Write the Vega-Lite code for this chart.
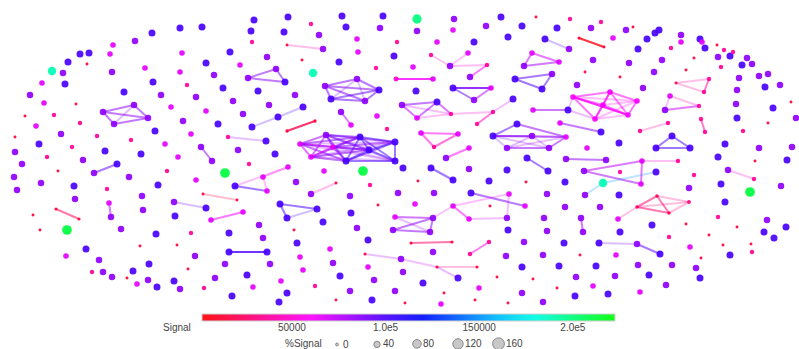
{
"$schema":"https://vega.github.io/schema/vega-lite/v6.json",
"width":799,"height":349,"padding":0,"autosize":{"type":"none"},
"background":"white",
"config":{"view":{"stroke":null},"font":"Liberation Sans"},
"datasets":{
"nodes":[
{"x":254,"y":20,"signal":101000,"pct":50},{"x":288,"y":17,"signal":101000,"pct":50},{"x":342,"y":16,"signal":101000,"pct":50},{"x":383,"y":16,"signal":101000,"pct":50},
{"x":180,"y":28,"signal":101000,"pct":50},{"x":202,"y":27,"signal":101000,"pct":50},{"x":251,"y":31,"signal":101000,"pct":50},{"x":284,"y":32,"signal":101000,"pct":50},
{"x":311,"y":24,"signal":37000,"pct":14},{"x":346,"y":27,"signal":101000,"pct":50},{"x":380,"y":28,"signal":85000,"pct":42},{"x":152,"y":33,"signal":101000,"pct":50},
{"x":135,"y":41,"signal":85000,"pct":42},{"x":113,"y":45,"signal":66000,"pct":28},{"x":252,"y":42,"signal":37000,"pct":14},{"x":287,"y":45,"signal":15000,"pct":1},
{"x":323,"y":49,"signal":85000,"pct":42},{"x":319,"y":35,"signal":85000,"pct":42},{"x":357,"y":39,"signal":66000,"pct":28},{"x":397,"y":42,"signal":37000,"pct":14},
{"x":80,"y":54,"signal":101000,"pct":50},{"x":89,"y":53,"signal":101000,"pct":50},{"x":110,"y":54,"signal":66000,"pct":28},{"x":182,"y":53,"signal":66000,"pct":28},
{"x":230,"y":52,"signal":101000,"pct":50},{"x":358,"y":52,"signal":66000,"pct":28},{"x":394,"y":56,"signal":101000,"pct":50},{"x":68,"y":62,"signal":101000,"pct":50},
{"x":87,"y":64,"signal":15000,"pct":1},{"x":206,"y":63,"signal":101000,"pct":50},{"x":240,"y":65,"signal":66000,"pct":28},{"x":267,"y":57,"signal":85000,"pct":42},
{"x":302,"y":60,"signal":15000,"pct":1},{"x":339,"y":62,"signal":101000,"pct":50},{"x":52,"y":71,"signal":189000,"pct":78},{"x":63,"y":73,"signal":85000,"pct":42},
{"x":65,"y":84,"signal":101000,"pct":50},{"x":42,"y":83,"signal":66000,"pct":28},{"x":112,"y":72,"signal":85000,"pct":42},{"x":145,"y":68,"signal":66000,"pct":28},
{"x":180,"y":72,"signal":66000,"pct":28},{"x":214,"y":75,"signal":85000,"pct":42},{"x":187,"y":85,"signal":37000,"pct":14},{"x":153,"y":82,"signal":101000,"pct":50},
{"x":313,"y":73,"signal":189000,"pct":78},{"x":376,"y":68,"signal":37000,"pct":14},{"x":396,"y":79,"signal":50000,"pct":20},{"x":248,"y":78,"signal":85000,"pct":42},
{"x":276,"y":69,"signal":85000,"pct":42},{"x":285,"y":82,"signal":101000,"pct":50},{"x":325,"y":86,"signal":85000,"pct":42},{"x":357,"y":79,"signal":85000,"pct":42},
{"x":379,"y":90,"signal":101000,"pct":50},{"x":331,"y":99,"signal":101000,"pct":50},{"x":365,"y":101,"signal":85000,"pct":42},{"x":30,"y":95,"signal":85000,"pct":42},
{"x":44,"y":103,"signal":66000,"pct":28},{"x":76,"y":104,"signal":15000,"pct":1},{"x":124,"y":92,"signal":101000,"pct":50},{"x":161,"y":95,"signal":85000,"pct":42},
{"x":223,"y":88,"signal":101000,"pct":50},{"x":258,"y":91,"signal":101000,"pct":50},{"x":295,"y":95,"signal":85000,"pct":42},{"x":196,"y":97,"signal":85000,"pct":42},
{"x":233,"y":101,"signal":85000,"pct":42},{"x":269,"y":105,"signal":85000,"pct":42},{"x":103,"y":112,"signal":85000,"pct":42},{"x":134,"y":105,"signal":85000,"pct":42},
{"x":148,"y":118,"signal":85000,"pct":42},{"x":114,"y":124,"signal":85000,"pct":42},{"x":25,"y":116,"signal":15000,"pct":1},{"x":54,"y":115,"signal":37000,"pct":14},
{"x":36,"y":126,"signal":66000,"pct":28},{"x":80,"y":123,"signal":37000,"pct":14},{"x":61,"y":134,"signal":85000,"pct":42},{"x":15,"y":137,"signal":15000,"pct":1},
{"x":39,"y":144,"signal":101000,"pct":50},{"x":72,"y":147,"signal":37000,"pct":14},{"x":97,"y":136,"signal":37000,"pct":14},{"x":131,"y":140,"signal":37000,"pct":14},
{"x":155,"y":131,"signal":101000,"pct":50},{"x":171,"y":107,"signal":66000,"pct":28},{"x":183,"y":121,"signal":85000,"pct":42},{"x":206,"y":111,"signal":66000,"pct":28},
{"x":191,"y":134,"signal":66000,"pct":28},{"x":165,"y":144,"signal":66000,"pct":28},{"x":218,"y":124,"signal":101000,"pct":50},{"x":243,"y":114,"signal":85000,"pct":42},
{"x":252,"y":127,"signal":101000,"pct":50},{"x":278,"y":117,"signal":101000,"pct":50},{"x":303,"y":107,"signal":101000,"pct":50},{"x":287,"y":131,"signal":15000,"pct":4},
{"x":315,"y":121,"signal":15000,"pct":4},{"x":341,"y":112,"signal":85000,"pct":42},{"x":351,"y":125,"signal":66000,"pct":28},{"x":377,"y":116,"signal":66000,"pct":28},
{"x":387,"y":129,"signal":37000,"pct":14},{"x":228,"y":137,"signal":37000,"pct":14},{"x":266,"y":141,"signal":101000,"pct":50},{"x":201,"y":147,"signal":85000,"pct":42},
{"x":238,"y":150,"signal":85000,"pct":42},{"x":275,"y":154,"signal":101000,"pct":50},{"x":141,"y":154,"signal":101000,"pct":50},{"x":105,"y":151,"signal":101000,"pct":50},
{"x":15,"y":152,"signal":85000,"pct":42},{"x":47,"y":157,"signal":37000,"pct":14},{"x":83,"y":160,"signal":85000,"pct":42},{"x":178,"y":157,"signal":66000,"pct":28},
{"x":300,"y":144,"signal":66000,"pct":28},{"x":326,"y":135,"signal":85000,"pct":42},{"x":360,"y":137,"signal":101000,"pct":50},{"x":395,"y":142,"signal":101000,"pct":50},
{"x":369,"y":150,"signal":101000,"pct":50},{"x":333,"y":147,"signal":66000,"pct":28},{"x":311,"y":157,"signal":66000,"pct":28},{"x":346,"y":161,"signal":101000,"pct":50},
{"x":395,"y":161,"signal":101000,"pct":50},{"x":363,"y":171,"signal":211000,"pct":105},
{"x":417,"y":19,"signal":199000,"pct":95},{"x":417,"y":31,"signal":85000,"pct":42},{"x":454,"y":19,"signal":85000,"pct":42},{"x":453,"y":30,"signal":66000,"pct":28},
{"x":501,"y":17,"signal":101000,"pct":50},{"x":486,"y":26,"signal":85000,"pct":42},{"x":522,"y":26,"signal":101000,"pct":50},{"x":536,"y":17,"signal":15000,"pct":1},
{"x":570,"y":19,"signal":37000,"pct":14},{"x":557,"y":28,"signal":101000,"pct":50},{"x":591,"y":28,"signal":85000,"pct":42},{"x":601,"y":22,"signal":37000,"pct":14},
{"x":626,"y":30,"signal":85000,"pct":42},{"x":633,"y":27,"signal":15000,"pct":1},{"x":647,"y":39,"signal":101000,"pct":50},{"x":655,"y":33,"signal":101000,"pct":50},
{"x":659,"y":30,"signal":101000,"pct":50},{"x":681,"y":35,"signal":85000,"pct":42},{"x":681,"y":42,"signal":66000,"pct":28},{"x":700,"y":39,"signal":101000,"pct":50},
{"x":702,"y":42,"signal":66000,"pct":28},{"x":705,"y":48,"signal":101000,"pct":50},{"x":717,"y":45,"signal":15000,"pct":1},{"x":724,"y":50,"signal":37000,"pct":14},
{"x":730,"y":56,"signal":101000,"pct":50},{"x":733,"y":52,"signal":37000,"pct":14},{"x":718,"y":57,"signal":85000,"pct":42},{"x":747,"y":58,"signal":85000,"pct":42},
{"x":752,"y":64,"signal":85000,"pct":42},{"x":742,"y":65,"signal":101000,"pct":50},{"x":721,"y":67,"signal":37000,"pct":14},{"x":694,"y":58,"signal":15000,"pct":1},
{"x":686,"y":70,"signal":15000,"pct":1},{"x":662,"y":60,"signal":85000,"pct":42},{"x":671,"y":48,"signal":37000,"pct":14},{"x":638,"y":49,"signal":101000,"pct":50},
{"x":629,"y":63,"signal":85000,"pct":42},{"x":613,"y":38,"signal":66000,"pct":28},{"x":579,"y":38,"signal":15000,"pct":2},{"x":604,"y":47,"signal":15000,"pct":1},
{"x":545,"y":39,"signal":101000,"pct":50},{"x":569,"y":49,"signal":85000,"pct":42},{"x":508,"y":37,"signal":101000,"pct":50},{"x":474,"y":42,"signal":101000,"pct":50},
{"x":437,"y":42,"signal":66000,"pct":28},{"x":431,"y":55,"signal":37000,"pct":14},{"x":468,"y":53,"signal":66000,"pct":28},{"x":450,"y":66,"signal":85000,"pct":42},
{"x":487,"y":65,"signal":37000,"pct":14},{"x":470,"y":77,"signal":85000,"pct":42},{"x":532,"y":53,"signal":66000,"pct":28},{"x":559,"y":62,"signal":66000,"pct":28},
{"x":524,"y":66,"signal":85000,"pct":42},{"x":593,"y":60,"signal":85000,"pct":42},{"x":585,"y":72,"signal":15000,"pct":1},{"x":620,"y":77,"signal":15000,"pct":1},
{"x":654,"y":72,"signal":85000,"pct":42},{"x":739,"y":78,"signal":85000,"pct":42},{"x":759,"y":76,"signal":85000,"pct":42},{"x":768,"y":74,"signal":85000,"pct":42},
{"x":765,"y":87,"signal":101000,"pct":50},{"x":780,"y":85,"signal":85000,"pct":42},{"x":737,"y":90,"signal":85000,"pct":42},{"x":736,"y":104,"signal":85000,"pct":42},
{"x":791,"y":102,"signal":15000,"pct":1},{"x":773,"y":108,"signal":101000,"pct":50},{"x":737,"y":118,"signal":101000,"pct":50},{"x":768,"y":123,"signal":15000,"pct":1},
{"x":796,"y":118,"signal":85000,"pct":42},{"x":743,"y":131,"signal":37000,"pct":14},{"x":725,"y":144,"signal":101000,"pct":50},{"x":759,"y":148,"signal":85000,"pct":42},
{"x":792,"y":147,"signal":85000,"pct":42},{"x":718,"y":157,"signal":101000,"pct":50},{"x":787,"y":160,"signal":101000,"pct":50},{"x":433,"y":79,"signal":66000,"pct":28},
{"x":413,"y":67,"signal":66000,"pct":28},{"x":416,"y":91,"signal":101000,"pct":50},{"x":453,"y":88,"signal":101000,"pct":50},{"x":491,"y":88,"signal":66000,"pct":28},
{"x":474,"y":100,"signal":85000,"pct":42},{"x":515,"y":79,"signal":101000,"pct":50},{"x":552,"y":74,"signal":85000,"pct":42},{"x":542,"y":89,"signal":101000,"pct":50},
{"x":577,"y":85,"signal":85000,"pct":42},{"x":643,"y":88,"signal":85000,"pct":42},{"x":676,"y":83,"signal":15000,"pct":1},{"x":709,"y":79,"signal":37000,"pct":14},
{"x":704,"y":92,"signal":37000,"pct":14},{"x":402,"y":105,"signal":85000,"pct":42},{"x":437,"y":102,"signal":101000,"pct":50},{"x":417,"y":118,"signal":66000,"pct":28},
{"x":451,"y":114,"signal":37000,"pct":14},{"x":513,"y":99,"signal":101000,"pct":50},{"x":493,"y":112,"signal":37000,"pct":14},{"x":477,"y":124,"signal":37000,"pct":14},
{"x":533,"y":110,"signal":66000,"pct":28},{"x":568,"y":110,"signal":101000,"pct":50},{"x":573,"y":97,"signal":62000,"pct":28},{"x":610,"y":92,"signal":62000,"pct":28},
{"x":637,"y":101,"signal":62000,"pct":28},{"x":628,"y":115,"signal":62000,"pct":28},{"x":595,"y":119,"signal":62000,"pct":28},{"x":603,"y":105,"signal":62000,"pct":28},
{"x":670,"y":96,"signal":66000,"pct":28},{"x":665,"y":110,"signal":85000,"pct":42},{"x":699,"y":106,"signal":37000,"pct":14},{"x":701,"y":119,"signal":37000,"pct":14},
{"x":705,"y":132,"signal":37000,"pct":14},{"x":560,"y":123,"signal":66000,"pct":28},{"x":601,"y":132,"signal":101000,"pct":50},{"x":640,"y":131,"signal":37000,"pct":14},
{"x":668,"y":123,"signal":37000,"pct":14},{"x":421,"y":133,"signal":66000,"pct":28},{"x":458,"y":134,"signal":66000,"pct":28},{"x":434,"y":147,"signal":37000,"pct":14},
{"x":517,"y":124,"signal":101000,"pct":50},{"x":493,"y":136,"signal":101000,"pct":50},{"x":532,"y":136,"signal":85000,"pct":42},{"x":566,"y":137,"signal":66000,"pct":28},
{"x":507,"y":148,"signal":85000,"pct":42},{"x":549,"y":148,"signal":85000,"pct":42},{"x":619,"y":143,"signal":101000,"pct":50},{"x":587,"y":148,"signal":66000,"pct":28},
{"x":672,"y":136,"signal":101000,"pct":50},{"x":656,"y":148,"signal":101000,"pct":50},{"x":690,"y":148,"signal":101000,"pct":50},{"x":446,"y":158,"signal":85000,"pct":42},
{"x":469,"y":148,"signal":66000,"pct":28},{"x":527,"y":158,"signal":101000,"pct":50},
{"x":22,"y":164,"signal":85000,"pct":42},{"x":14,"y":177,"signal":85000,"pct":42},{"x":17,"y":190,"signal":85000,"pct":42},{"x":41,"y":183,"signal":85000,"pct":42},
{"x":58,"y":171,"signal":15000,"pct":1},{"x":94,"y":173,"signal":85000,"pct":42},{"x":117,"y":164,"signal":101000,"pct":50},{"x":129,"y":177,"signal":85000,"pct":42},
{"x":74,"y":186,"signal":101000,"pct":50},{"x":75,"y":199,"signal":85000,"pct":42},{"x":107,"y":189,"signal":37000,"pct":14},{"x":109,"y":203,"signal":66000,"pct":28},
{"x":111,"y":217,"signal":85000,"pct":42},{"x":142,"y":196,"signal":85000,"pct":42},{"x":143,"y":210,"signal":85000,"pct":42},{"x":158,"y":185,"signal":101000,"pct":50},
{"x":167,"y":171,"signal":37000,"pct":14},{"x":196,"y":180,"signal":66000,"pct":28},{"x":212,"y":161,"signal":85000,"pct":42},{"x":225,"y":173,"signal":211000,"pct":105},
{"x":249,"y":164,"signal":37000,"pct":14},{"x":235,"y":186,"signal":101000,"pct":50},{"x":263,"y":177,"signal":66000,"pct":28},{"x":288,"y":167,"signal":66000,"pct":28},
{"x":267,"y":191,"signal":66000,"pct":28},{"x":324,"y":171,"signal":66000,"pct":28},{"x":296,"y":182,"signal":85000,"pct":42},{"x":311,"y":194,"signal":85000,"pct":42},
{"x":336,"y":183,"signal":15000,"pct":1},{"x":370,"y":185,"signal":37000,"pct":14},{"x":350,"y":196,"signal":85000,"pct":42},{"x":378,"y":205,"signal":15000,"pct":1},
{"x":398,"y":193,"signal":85000,"pct":42},{"x":33,"y":215,"signal":15000,"pct":1},{"x":56,"y":209,"signal":15000,"pct":2},{"x":79,"y":219,"signal":15000,"pct":2},
{"x":40,"y":230,"signal":15000,"pct":1},{"x":67,"y":230,"signal":211000,"pct":105},{"x":121,"y":229,"signal":85000,"pct":42},{"x":156,"y":234,"signal":101000,"pct":50},
{"x":174,"y":202,"signal":85000,"pct":42},{"x":206,"y":208,"signal":101000,"pct":50},{"x":175,"y":216,"signal":101000,"pct":50},{"x":203,"y":194,"signal":15000,"pct":1},
{"x":237,"y":200,"signal":15000,"pct":1},{"x":211,"y":220,"signal":66000,"pct":28},{"x":243,"y":212,"signal":66000,"pct":28},{"x":191,"y":233,"signal":37000,"pct":14},
{"x":229,"y":233,"signal":101000,"pct":50},{"x":259,"y":225,"signal":85000,"pct":42},{"x":263,"y":238,"signal":85000,"pct":42},{"x":280,"y":204,"signal":101000,"pct":50},
{"x":317,"y":209,"signal":101000,"pct":50},{"x":287,"y":218,"signal":101000,"pct":50},{"x":323,"y":222,"signal":101000,"pct":50},{"x":294,"y":230,"signal":15000,"pct":1},
{"x":351,"y":213,"signal":101000,"pct":50},{"x":357,"y":228,"signal":85000,"pct":42},{"x":368,"y":240,"signal":101000,"pct":50},{"x":395,"y":217,"signal":66000,"pct":28},
{"x":393,"y":230,"signal":85000,"pct":42},{"x":86,"y":249,"signal":101000,"pct":50},{"x":66,"y":256,"signal":66000,"pct":28},{"x":99,"y":260,"signal":85000,"pct":42},
{"x":92,"y":272,"signal":37000,"pct":14},{"x":103,"y":272,"signal":85000,"pct":42},{"x":112,"y":277,"signal":85000,"pct":42},{"x":127,"y":278,"signal":15000,"pct":1},
{"x":137,"y":284,"signal":66000,"pct":28},{"x":133,"y":271,"signal":101000,"pct":50},{"x":140,"y":246,"signal":15000,"pct":1},{"x":149,"y":264,"signal":101000,"pct":50},
{"x":148,"y":280,"signal":85000,"pct":42},{"x":157,"y":287,"signal":101000,"pct":50},{"x":174,"y":281,"signal":101000,"pct":50},{"x":177,"y":245,"signal":15000,"pct":1},
{"x":180,"y":289,"signal":85000,"pct":42},{"x":195,"y":256,"signal":85000,"pct":42},{"x":188,"y":269,"signal":15000,"pct":1},{"x":204,"y":288,"signal":37000,"pct":14},
{"x":215,"y":278,"signal":85000,"pct":42},{"x":225,"y":264,"signal":85000,"pct":42},{"x":229,"y":252,"signal":101000,"pct":50},{"x":267,"y":252,"signal":101000,"pct":50},
{"x":232,"y":296,"signal":101000,"pct":50},{"x":247,"y":275,"signal":101000,"pct":50},{"x":253,"y":287,"signal":66000,"pct":28},{"x":270,"y":264,"signal":85000,"pct":42},
{"x":281,"y":281,"signal":66000,"pct":28},{"x":287,"y":293,"signal":101000,"pct":50},{"x":279,"y":302,"signal":101000,"pct":50},{"x":297,"y":243,"signal":101000,"pct":50},
{"x":300,"y":257,"signal":66000,"pct":28},{"x":303,"y":270,"signal":66000,"pct":28},{"x":315,"y":286,"signal":37000,"pct":14},{"x":330,"y":249,"signal":66000,"pct":28},
{"x":333,"y":263,"signal":85000,"pct":42},{"x":340,"y":276,"signal":101000,"pct":50},{"x":336,"y":300,"signal":15000,"pct":1},{"x":350,"y":291,"signal":85000,"pct":42},
{"x":368,"y":267,"signal":66000,"pct":28},{"x":365,"y":254,"signal":15000,"pct":2},{"x":401,"y":259,"signal":85000,"pct":42},{"x":374,"y":280,"signal":85000,"pct":42},
{"x":372,"y":300,"signal":101000,"pct":50},{"x":395,"y":291,"signal":85000,"pct":42},
{"x":403,"y":168,"signal":101000,"pct":50},{"x":431,"y":168,"signal":101000,"pct":50},{"x":453,"y":180,"signal":101000,"pct":50},{"x":469,"y":169,"signal":85000,"pct":42},
{"x":507,"y":170,"signal":101000,"pct":50},{"x":548,"y":171,"signal":101000,"pct":50},{"x":566,"y":159,"signal":85000,"pct":42},{"x":606,"y":160,"signal":85000,"pct":42},
{"x":584,"y":171,"signal":85000,"pct":42},{"x":642,"y":161,"signal":66000,"pct":28},{"x":641,"y":184,"signal":66000,"pct":28},{"x":678,"y":161,"signal":37000,"pct":14},
{"x":620,"y":172,"signal":37000,"pct":14},{"x":656,"y":172,"signal":101000,"pct":50},{"x":603,"y":183,"signal":189000,"pct":78},{"x":585,"y":195,"signal":85000,"pct":42},
{"x":694,"y":175,"signal":37000,"pct":14},{"x":755,"y":161,"signal":15000,"pct":1},{"x":728,"y":170,"signal":85000,"pct":42},{"x":754,"y":179,"signal":37000,"pct":14},
{"x":750,"y":192,"signal":211000,"pct":105},{"x":781,"y":186,"signal":85000,"pct":42},{"x":721,"y":184,"signal":101000,"pct":50},{"x":725,"y":202,"signal":101000,"pct":50},
{"x":689,"y":188,"signal":85000,"pct":42},{"x":418,"y":181,"signal":15000,"pct":1},{"x":489,"y":181,"signal":101000,"pct":50},{"x":526,"y":182,"signal":15000,"pct":1},
{"x":565,"y":182,"signal":101000,"pct":50},{"x":434,"y":193,"signal":85000,"pct":42},{"x":471,"y":193,"signal":101000,"pct":50},{"x":525,"y":206,"signal":66000,"pct":28},
{"x":509,"y":194,"signal":66000,"pct":28},{"x":507,"y":218,"signal":85000,"pct":42},{"x":547,"y":194,"signal":85000,"pct":42},{"x":619,"y":195,"signal":101000,"pct":50},
{"x":600,"y":207,"signal":85000,"pct":42},{"x":565,"y":207,"signal":85000,"pct":42},{"x":490,"y":206,"signal":15000,"pct":1},{"x":415,"y":204,"signal":66000,"pct":28},
{"x":453,"y":206,"signal":66000,"pct":28},{"x":469,"y":219,"signal":66000,"pct":28},{"x":433,"y":218,"signal":85000,"pct":42},{"x":430,"y":232,"signal":85000,"pct":42},
{"x":544,"y":218,"signal":85000,"pct":42},{"x":581,"y":218,"signal":85000,"pct":42},{"x":583,"y":232,"signal":85000,"pct":42},{"x":618,"y":219,"signal":66000,"pct":28},
{"x":637,"y":207,"signal":20000,"pct":5},{"x":657,"y":196,"signal":20000,"pct":5},{"x":669,"y":213,"signal":20000,"pct":5},{"x":689,"y":202,"signal":30000,"pct":8},
{"x":652,"y":225,"signal":101000,"pct":50},{"x":686,"y":224,"signal":15000,"pct":1},{"x":718,"y":217,"signal":37000,"pct":14},{"x":737,"y":227,"signal":15000,"pct":1},
{"x":767,"y":220,"signal":85000,"pct":42},{"x":764,"y":232,"signal":101000,"pct":50},{"x":774,"y":238,"signal":101000,"pct":50},{"x":786,"y":227,"signal":101000,"pct":50},
{"x":709,"y":235,"signal":15000,"pct":1},{"x":669,"y":237,"signal":37000,"pct":14},{"x":690,"y":247,"signal":66000,"pct":28},{"x":723,"y":245,"signal":15000,"pct":1},
{"x":751,"y":244,"signal":15000,"pct":1},{"x":752,"y":252,"signal":37000,"pct":14},{"x":730,"y":255,"signal":101000,"pct":50},{"x":701,"y":258,"signal":15000,"pct":1},
{"x":696,"y":268,"signal":85000,"pct":42},{"x":700,"y":278,"signal":101000,"pct":50},{"x":508,"y":230,"signal":101000,"pct":50},{"x":547,"y":231,"signal":85000,"pct":42},
{"x":620,"y":232,"signal":101000,"pct":50},{"x":411,"y":243,"signal":15000,"pct":3},{"x":452,"y":242,"signal":15000,"pct":3},{"x":489,"y":242,"signal":37000,"pct":14},
{"x":470,"y":254,"signal":37000,"pct":14},{"x":524,"y":242,"signal":85000,"pct":42},{"x":564,"y":243,"signal":101000,"pct":50},{"x":599,"y":243,"signal":101000,"pct":50},
{"x":637,"y":244,"signal":85000,"pct":42},{"x":660,"y":254,"signal":101000,"pct":50},{"x":433,"y":252,"signal":85000,"pct":42},{"x":506,"y":256,"signal":85000,"pct":42},
{"x":543,"y":255,"signal":85000,"pct":42},{"x":580,"y":255,"signal":15000,"pct":1},{"x":616,"y":255,"signal":66000,"pct":28},{"x":437,"y":267,"signal":15000,"pct":3},
{"x":477,"y":267,"signal":15000,"pct":3},{"x":458,"y":278,"signal":101000,"pct":50},{"x":403,"y":272,"signal":85000,"pct":42},{"x":423,"y":283,"signal":101000,"pct":50},
{"x":497,"y":277,"signal":15000,"pct":1},{"x":522,"y":267,"signal":101000,"pct":50},{"x":559,"y":266,"signal":101000,"pct":50},{"x":596,"y":266,"signal":101000,"pct":50},
{"x":638,"y":265,"signal":85000,"pct":42},{"x":672,"y":265,"signal":85000,"pct":42},{"x":649,"y":275,"signal":101000,"pct":50},{"x":615,"y":276,"signal":85000,"pct":42},
{"x":576,"y":277,"signal":85000,"pct":42},{"x":533,"y":279,"signal":15000,"pct":1},{"x":479,"y":288,"signal":66000,"pct":28},{"x":444,"y":293,"signal":15000,"pct":1},
{"x":405,"y":303,"signal":15000,"pct":1},{"x":441,"y":304,"signal":66000,"pct":28},{"x":475,"y":300,"signal":15000,"pct":1},{"x":508,"y":303,"signal":15000,"pct":1},
{"x":522,"y":293,"signal":85000,"pct":42},{"x":543,"y":302,"signal":85000,"pct":42},{"x":557,"y":288,"signal":15000,"pct":1},{"x":575,"y":296,"signal":101000,"pct":50},
{"x":593,"y":286,"signal":66000,"pct":28},{"x":608,"y":294,"signal":101000,"pct":50},{"x":640,"y":292,"signal":66000,"pct":28},{"x":666,"y":285,"signal":85000,"pct":42}
],
"edges":[
{"x1":287,"y1":45,"x2":323,"y2":49,"signal":40000,"w":1},
{"x1":248,"y1":78,"x2":276,"y2":69,"signal":85000,"w":2},{"x1":248,"y1":78,"x2":285,"y2":82,"signal":85000,"w":2},{"x1":276,"y1":69,"x2":285,"y2":82,"signal":90000,"w":2},
{"x1":325,"y1":86,"x2":357,"y2":79,"signal":88000,"w":2},{"x1":325,"y1":86,"x2":379,"y2":90,"signal":88000,"w":2},{"x1":325,"y1":86,"x2":331,"y2":99,"signal":88000,"w":2},{"x1":325,"y1":86,"x2":365,"y2":101,"signal":88000,"w":2},{"x1":357,"y1":79,"x2":379,"y2":90,"signal":88000,"w":2},{"x1":357,"y1":79,"x2":331,"y2":99,"signal":88000,"w":1},{"x1":357,"y1":79,"x2":365,"y2":101,"signal":88000,"w":1},{"x1":379,"y1":90,"x2":331,"y2":99,"signal":95000,"w":2},{"x1":379,"y1":90,"x2":365,"y2":101,"signal":95000,"w":2},{"x1":331,"y1":99,"x2":365,"y2":101,"signal":95000,"w":2},
{"x1":103,"y1":112,"x2":134,"y2":105,"signal":85000,"w":2},{"x1":103,"y1":112,"x2":148,"y2":118,"signal":85000,"w":2},{"x1":103,"y1":112,"x2":114,"y2":124,"signal":85000,"w":2},{"x1":134,"y1":105,"x2":148,"y2":118,"signal":85000,"w":2},{"x1":134,"y1":105,"x2":114,"y2":124,"signal":85000,"w":1},{"x1":114,"y1":124,"x2":148,"y2":118,"signal":85000,"w":2},
{"x1":252,"y1":127,"x2":278,"y2":117,"signal":100000,"w":1},{"x1":278,"y1":117,"x2":303,"y2":107,"signal":100000,"w":1},
{"x1":287,"y1":131,"x2":315,"y2":121,"signal":20000,"w":3},{"x1":341,"y1":112,"x2":351,"y2":125,"signal":75000,"w":2},{"x1":228,"y1":137,"x2":266,"y2":141,"signal":80000,"w":1},{"x1":201,"y1":147,"x2":212,"y2":161,"signal":85000,"w":2},
{"x1":300,"y1":144,"x2":326,"y2":135,"signal":80000,"w":2},{"x1":300,"y1":144,"x2":360,"y2":137,"signal":85000,"w":2},{"x1":300,"y1":144,"x2":395,"y2":142,"signal":85000,"w":1},{"x1":300,"y1":144,"x2":369,"y2":150,"signal":85000,"w":2},{"x1":300,"y1":144,"x2":333,"y2":147,"signal":70000,"w":2},{"x1":300,"y1":144,"x2":311,"y2":157,"signal":70000,"w":2},{"x1":300,"y1":144,"x2":346,"y2":161,"signal":85000,"w":2},{"x1":300,"y1":144,"x2":395,"y2":161,"signal":85000,"w":1},
{"x1":326,"y1":135,"x2":360,"y2":137,"signal":90000,"w":2},{"x1":326,"y1":135,"x2":395,"y2":142,"signal":90000,"w":2},{"x1":326,"y1":135,"x2":369,"y2":150,"signal":90000,"w":2},{"x1":326,"y1":135,"x2":333,"y2":147,"signal":80000,"w":2},{"x1":326,"y1":135,"x2":311,"y2":157,"signal":80000,"w":2},{"x1":326,"y1":135,"x2":346,"y2":161,"signal":90000,"w":2},{"x1":326,"y1":135,"x2":395,"y2":161,"signal":90000,"w":1},
{"x1":360,"y1":137,"x2":395,"y2":142,"signal":100000,"w":2},{"x1":360,"y1":137,"x2":369,"y2":150,"signal":100000,"w":2},{"x1":360,"y1":137,"x2":333,"y2":147,"signal":85000,"w":2},{"x1":360,"y1":137,"x2":311,"y2":157,"signal":85000,"w":2},{"x1":360,"y1":137,"x2":346,"y2":161,"signal":100000,"w":2},{"x1":360,"y1":137,"x2":395,"y2":161,"signal":100000,"w":2},
{"x1":395,"y1":142,"x2":369,"y2":150,"signal":100000,"w":2},{"x1":395,"y1":142,"x2":333,"y2":147,"signal":85000,"w":2},{"x1":395,"y1":142,"x2":311,"y2":157,"signal":85000,"w":1},{"x1":395,"y1":142,"x2":346,"y2":161,"signal":100000,"w":2},{"x1":395,"y1":142,"x2":395,"y2":161,"signal":100000,"w":2},
{"x1":369,"y1":150,"x2":333,"y2":147,"signal":85000,"w":2},{"x1":369,"y1":150,"x2":311,"y2":157,"signal":85000,"w":2},{"x1":369,"y1":150,"x2":346,"y2":161,"signal":100000,"w":2},{"x1":369,"y1":150,"x2":395,"y2":161,"signal":100000,"w":2},
{"x1":333,"y1":147,"x2":311,"y2":157,"signal":66000,"w":2},{"x1":333,"y1":147,"x2":346,"y2":161,"signal":85000,"w":2},{"x1":333,"y1":147,"x2":395,"y2":161,"signal":85000,"w":1},
{"x1":311,"y1":157,"x2":346,"y2":161,"signal":85000,"w":2},{"x1":311,"y1":157,"x2":395,"y2":161,"signal":85000,"w":1},{"x1":346,"y1":161,"x2":395,"y2":161,"signal":100000,"w":2},
{"x1":396,"y1":79,"x2":433,"y2":79,"signal":62000,"w":3},{"x1":579,"y1":38,"x2":604,"y2":47,"signal":5000,"w":3},{"x1":545,"y1":39,"x2":569,"y2":49,"signal":100000,"w":1},
{"x1":431,"y1":55,"x2":450,"y2":66,"signal":45000,"w":1},{"x1":450,"y1":66,"x2":468,"y2":53,"signal":60000,"w":1},{"x1":450,"y1":66,"x2":487,"y2":65,"signal":50000,"w":1},{"x1":470,"y1":77,"x2":487,"y2":65,"signal":60000,"w":2},
{"x1":532,"y1":53,"x2":559,"y2":62,"signal":70000,"w":2},{"x1":532,"y1":53,"x2":524,"y2":66,"signal":75000,"w":2},{"x1":524,"y1":66,"x2":559,"y2":62,"signal":80000,"w":2},
{"x1":453,"y1":88,"x2":491,"y2":88,"signal":90000,"w":3},{"x1":453,"y1":88,"x2":474,"y2":100,"signal":95000,"w":2},{"x1":474,"y1":100,"x2":491,"y2":88,"signal":75000,"w":2},
{"x1":515,"y1":79,"x2":552,"y2":74,"signal":95000,"w":2},{"x1":515,"y1":79,"x2":542,"y2":89,"signal":100000,"w":2},{"x1":542,"y1":89,"x2":552,"y2":74,"signal":95000,"w":2},
{"x1":676,"y1":83,"x2":709,"y2":79,"signal":40000,"w":1},{"x1":676,"y1":83,"x2":704,"y2":92,"signal":35000,"w":1},{"x1":704,"y1":92,"x2":709,"y2":79,"signal":40000,"w":2},
{"x1":402,"y1":105,"x2":437,"y2":102,"signal":85000,"w":2},{"x1":402,"y1":105,"x2":451,"y2":114,"signal":70000,"w":1},{"x1":402,"y1":105,"x2":417,"y2":118,"signal":75000,"w":2},{"x1":437,"y1":102,"x2":417,"y2":118,"signal":80000,"w":2},{"x1":437,"y1":102,"x2":451,"y2":114,"signal":75000,"w":2},{"x1":417,"y1":118,"x2":451,"y2":114,"signal":55000,"w":1},{"x1":451,"y1":114,"x2":493,"y2":112,"signal":50000,"w":1},
{"x1":513,"y1":99,"x2":493,"y2":112,"signal":70000,"w":1},{"x1":493,"y1":112,"x2":477,"y2":124,"signal":45000,"w":2},{"x1":533,"y1":110,"x2":568,"y2":110,"signal":80000,"w":2},
{"x1":568,"y1":110,"x2":573,"y2":97,"signal":75000,"w":1},{"x1":568,"y1":110,"x2":595,"y2":119,"signal":75000,"w":1},
{"x1":573,"y1":97,"x2":610,"y2":92,"signal":60000,"w":2},{"x1":573,"y1":97,"x2":637,"y2":101,"signal":60000,"w":1},{"x1":573,"y1":97,"x2":628,"y2":115,"signal":60000,"w":3},{"x1":573,"y1":97,"x2":595,"y2":119,"signal":60000,"w":2},{"x1":573,"y1":97,"x2":603,"y2":105,"signal":60000,"w":2},
{"x1":610,"y1":92,"x2":637,"y2":101,"signal":60000,"w":2},{"x1":610,"y1":92,"x2":628,"y2":115,"signal":60000,"w":2},{"x1":610,"y1":92,"x2":595,"y2":119,"signal":60000,"w":2},{"x1":610,"y1":92,"x2":603,"y2":105,"signal":60000,"w":2},
{"x1":637,"y1":101,"x2":628,"y2":115,"signal":60000,"w":2},{"x1":637,"y1":101,"x2":595,"y2":119,"signal":60000,"w":1},{"x1":637,"y1":101,"x2":603,"y2":105,"signal":60000,"w":1},{"x1":628,"y1":115,"x2":595,"y2":119,"signal":60000,"w":1},{"x1":628,"y1":115,"x2":603,"y2":105,"signal":60000,"w":2},{"x1":595,"y1":119,"x2":603,"y2":105,"signal":60000,"w":2},
{"x1":670,"y1":96,"x2":699,"y2":106,"signal":45000,"w":1},{"x1":665,"y1":110,"x2":699,"y2":106,"signal":70000,"w":2},{"x1":665,"y1":110,"x2":670,"y2":96,"signal":70000,"w":1},
{"x1":701,"y1":119,"x2":705,"y2":132,"signal":40000,"w":2},{"x1":560,"y1":123,"x2":601,"y2":132,"signal":85000,"w":2},{"x1":640,"y1":131,"x2":668,"y2":123,"signal":40000,"w":1},
{"x1":421,"y1":133,"x2":458,"y2":134,"signal":60000,"w":2},{"x1":421,"y1":133,"x2":434,"y2":147,"signal":50000,"w":2},{"x1":434,"y1":147,"x2":458,"y2":134,"signal":45000,"w":2},
{"x1":517,"y1":124,"x2":493,"y2":136,"signal":95000,"w":2},{"x1":517,"y1":124,"x2":566,"y2":137,"signal":85000,"w":2},{"x1":493,"y1":136,"x2":532,"y2":136,"signal":90000,"w":2},{"x1":493,"y1":136,"x2":566,"y2":137,"signal":85000,"w":2},{"x1":532,"y1":136,"x2":566,"y2":137,"signal":80000,"w":1},{"x1":493,"y1":136,"x2":507,"y2":148,"signal":90000,"w":1},{"x1":507,"y1":148,"x2":532,"y2":136,"signal":85000,"w":1},{"x1":507,"y1":148,"x2":549,"y2":148,"signal":85000,"w":2},{"x1":549,"y1":148,"x2":566,"y2":137,"signal":80000,"w":2},{"x1":532,"y1":136,"x2":549,"y2":148,"signal":85000,"w":1},{"x1":507,"y1":148,"x2":566,"y2":137,"signal":80000,"w":1},{"x1":493,"y1":136,"x2":549,"y2":148,"signal":85000,"w":1},
{"x1":672,"y1":136,"x2":656,"y2":148,"signal":100000,"w":2},{"x1":672,"y1":136,"x2":690,"y2":148,"signal":100000,"w":2},{"x1":656,"y1":148,"x2":690,"y2":148,"signal":100000,"w":2},
{"x1":446,"y1":158,"x2":469,"y2":148,"signal":60000,"w":2},{"x1":527,"y1":158,"x2":548,"y2":171,"signal":100000,"w":2},{"x1":566,"y1":159,"x2":606,"y2":160,"signal":85000,"w":2},
{"x1":94,"y1":173,"x2":117,"y2":164,"signal":95000,"w":2},{"x1":109,"y1":203,"x2":111,"y2":217,"signal":75000,"w":2},{"x1":56,"y1":209,"x2":79,"y2":219,"signal":20000,"w":2},
{"x1":174,"y1":202,"x2":206,"y2":208,"signal":95000,"w":1},{"x1":203,"y1":194,"x2":237,"y2":200,"signal":15000,"w":1},{"x1":211,"y1":220,"x2":243,"y2":212,"signal":62000,"w":2},
{"x1":235,"y1":186,"x2":288,"y2":167,"signal":55000,"w":1},{"x1":235,"y1":186,"x2":267,"y2":191,"signal":100000,"w":2},{"x1":263,"y1":177,"x2":267,"y2":191,"signal":55000,"w":1},{"x1":263,"y1":177,"x2":288,"y2":167,"signal":60000,"w":1},
{"x1":280,"y1":204,"x2":317,"y2":209,"signal":100000,"w":2},{"x1":280,"y1":204,"x2":287,"y2":218,"signal":100000,"w":2},{"x1":287,"y1":218,"x2":317,"y2":209,"signal":100000,"w":1},
{"x1":311,"y1":194,"x2":336,"y2":183,"signal":45000,"w":1},{"x1":229,"y1":252,"x2":267,"y2":252,"signal":100000,"w":3},{"x1":365,"y1":254,"x2":401,"y2":259,"signal":80000,"w":1},
{"x1":431,"y1":168,"x2":453,"y2":180,"signal":100000,"w":2},
{"x1":584,"y1":171,"x2":642,"y2":161,"signal":75000,"w":2},{"x1":584,"y1":171,"x2":641,"y2":184,"signal":80000,"w":2},{"x1":642,"y1":161,"x2":641,"y2":184,"signal":70000,"w":2},{"x1":642,"y1":161,"x2":678,"y2":161,"signal":50000,"w":1},
{"x1":656,"y1":172,"x2":603,"y2":183,"signal":150000,"w":1},{"x1":603,"y1":183,"x2":585,"y2":195,"signal":150000,"w":1},{"x1":728,"y1":170,"x2":754,"y2":179,"signal":50000,"w":1},
{"x1":471,"y1":193,"x2":525,"y2":206,"signal":90000,"w":2},{"x1":509,"y1":194,"x2":453,"y2":206,"signal":60000,"w":1},{"x1":509,"y1":194,"x2":507,"y2":218,"signal":70000,"w":1},
{"x1":453,"y1":206,"x2":469,"y2":219,"signal":62000,"w":2},{"x1":469,"y1":219,"x2":507,"y2":218,"signal":70000,"w":1},{"x1":453,"y1":206,"x2":433,"y2":218,"signal":65000,"w":1},
{"x1":395,"y1":217,"x2":433,"y2":218,"signal":80000,"w":2},{"x1":393,"y1":230,"x2":433,"y2":218,"signal":85000,"w":2},{"x1":395,"y1":217,"x2":430,"y2":232,"signal":80000,"w":1},{"x1":393,"y1":230,"x2":430,"y2":232,"signal":85000,"w":2},{"x1":433,"y1":218,"x2":430,"y2":232,"signal":85000,"w":2},
{"x1":581,"y1":218,"x2":583,"y2":232,"signal":80000,"w":2},{"x1":618,"y1":219,"x2":637,"y2":207,"signal":40000,"w":1},
{"x1":637,"y1":207,"x2":657,"y2":196,"signal":28000,"w":2},{"x1":637,"y1":207,"x2":669,"y2":213,"signal":28000,"w":2},{"x1":657,"y1":196,"x2":669,"y2":213,"signal":28000,"w":2},{"x1":657,"y1":196,"x2":689,"y2":202,"signal":30000,"w":1},{"x1":669,"y1":213,"x2":689,"y2":202,"signal":30000,"w":1},{"x1":637,"y1":207,"x2":689,"y2":202,"signal":30000,"w":1},
{"x1":411,"y1":243,"x2":452,"y2":242,"signal":25000,"w":2},{"x1":489,"y1":242,"x2":470,"y2":254,"signal":55000,"w":2},
{"x1":599,"y1":243,"x2":637,"y2":244,"signal":90000,"w":1},{"x1":637,"y1":244,"x2":660,"y2":254,"signal":95000,"w":2},
{"x1":401,"y1":259,"x2":437,"y2":267,"signal":70000,"w":1},{"x1":437,"y1":267,"x2":477,"y2":267,"signal":35000,"w":1},{"x1":437,"y1":267,"x2":458,"y2":278,"signal":80000,"w":1}
]},
"layer":[
{"data":{"name":"edges"},
 "mark":{"type":"rule","strokeWidth":2},
 "encoding":{
  "x":{"field":"x1","type":"quantitative","scale":{"domain":[0,799]},"axis":null},
  "y":{"field":"y1","type":"quantitative","scale":{"domain":[349,0]},"axis":null},
  "x2":{"field":"x2"},"y2":{"field":"y2"},
  "stroke":{"field":"signal","type":"quantitative","scale":{"domain":[1999,60001,117001,175001,222499],"range":["#ff0000","#ff00ff","#0000ff","#00ffff","#00ff00"],"interpolate":"rgb"},"legend":null},
  "opacity":{"field":"w","type":"quantitative","scale":{"domain":[1,3],"range":[0.25,0.8]},"legend":null}
 }},
{"data":{"name":"nodes"},
 "mark":{"type":"circle","opacity":0.92},
 "encoding":{
  "x":{"field":"x","type":"quantitative","scale":{"domain":[0,799]},"axis":null},
  "y":{"field":"y","type":"quantitative","scale":{"domain":[349,0]},"axis":null},
  "color":{"field":"signal","type":"quantitative","title":["","Signal"],
   "scale":{"domain":[2000,60000,117000,175000,222500],"range":["#ff0000","#ff00ff","#0000ff","#00ffff","#00ff00"],"interpolate":"rgb"},
   "legend":{"type":"gradient","orient":"none","legendX":163,"legendY":314,"direction":"horizontal","titleOrient":"left","titleBaseline":"top","titleLineHeight":11,"gradientLength":413,"gradientThickness":7,"gradientStrokeColor":"#ccc","gradientStrokeWidth":1,
     "values":[50000,100000,150000,200000],"labelExpr":"datum.value==100000?'1.0e5':datum.value==200000?'2.0e5':format(datum.value,'d')",
     "labelFontSize":10,"titleFontSize":10,"titleFontWeight":"normal","labelColor":"#444","titleColor":"#444","titlePadding":11,"labelOverlap":false}},
  "size":{"field":"pct","type":"quantitative","title":"%Signal",
   "scale":{"domain":[0,160],"range":[8,140]},
   "legend":{"orient":"none","legendX":285,"legendY":337,"direction":"horizontal","titleOrient":"left","values":[0,40,80,120,160],"gridAlign":"all",
     "symbolFillColor":"#c8c8c8","symbolStrokeColor":"#888","symbolStrokeWidth":1,"symbolOpacity":1,"labelOffset":1,
     "labelFontSize":10,"titleFontSize":10,"titleFontWeight":"normal","labelColor":"#444","titleColor":"#444","titlePadding":10,"columnPadding":7}}
 }}
]
}
